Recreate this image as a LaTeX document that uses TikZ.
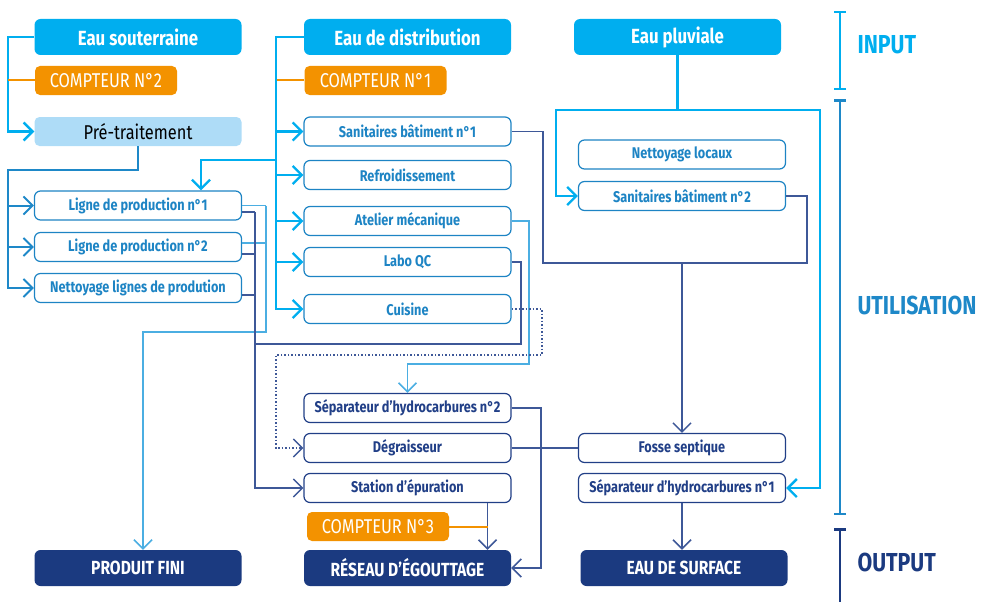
\documentclass[tikz,border=0pt]{standalone}
\usepackage{fontspec}
\setmainfont{Fira Sans}
\newfontfamily\dinfont{Fira Sans}[FakeStretch=0.82]
\usetikzlibrary{arrows.meta}
\definecolor{cyanc}{HTML}{00AEEF}
\definecolor{orangec}{HTML}{F39200}
\definecolor{lightc}{HTML}{AEDCF7}
\definecolor{useblue}{HTML}{1D84C4}
\definecolor{navyt}{HTML}{213F87}
\definecolor{navyc}{HTML}{1B3A80}
\definecolor{midc}{HTML}{1E88C8}
\definecolor{lightlc}{HTML}{4BAEE2}
\definecolor{navyl}{HTML}{3E5898}

\begin{document}
\begin{tikzpicture}[x=1pt, y=-1pt, >={Straight Barb[length=9pt,width=18pt]},
	source/.style={fill=cyanc, text=white, font=\dinfont\bfseries\fontsize{20.5}{22}\selectfont, minimum width=207pt, minimum height=36pt, inner sep=0pt, rounded corners=6pt},
	meter/.style={fill=orangec, text=white, font=\dinfont\fontsize{20}{22}\selectfont, minimum width=142pt, minimum height=29pt, inner sep=0pt, rounded corners=5pt},
	treat/.style={fill=lightc, text=black, font=\dinfont\fontsize{20}{22}\selectfont, minimum width=207pt, minimum height=29pt, inner sep=0pt, rounded corners=5pt},
	use/.style={draw=useblue, fill=white, line width=1.2pt, text=useblue, font=\dinfont\bfseries\fontsize{15.5}{17}\selectfont, minimum width=207pt, minimum height=29pt, inner sep=0pt, rounded corners=6pt},
	reject/.style={use, draw=navyt, text=navyt},
	sink/.style={fill=navyc, text=white, font=\dinfont\bfseries\fontsize{19}{21}\selectfont, minimum width=207pt, minimum height=36pt, inner sep=0pt, rounded corners=6pt},
	phase/.style={anchor=west, font=\dinfont\bfseries\fontsize{26}{28}\selectfont},
	cyanline/.style={draw=cyanc, line width=2.4pt},
	midline/.style={draw=midc, line width=2pt},
	lightline/.style={draw=lightlc, line width=1.6pt},
	navyline/.style={draw=navyl, line width=1.5pt},
	dotline/.style={draw=navyl, line width=1.5pt, dotted},
	meterline/.style={draw=orangec, line width=2pt}]
	\useasboundingbox (0,0) rectangle (988,602);

	\node[source] (souterraine) at (138,37) {Eau souterraine};
	\node[meter] (cpt2) at (106,80.5) {COMPTEUR N°2};
	\node[treat] (pretrait) at (138,131.5) {Pré-traitement};
	\node[use] (lig1) at (138,205.5) {Ligne de production n°1};
	\node[use] (lig2) at (138,247) {Ligne de production n°2};
	\node[use] (netlig) at (138,288) {Nettoyage lignes de prodution};
	\node[sink] (produit) at (138,568) {PRODUIT FINI};

	\node[source] (distrib) at (407.5,37) {Eau de distribution};
	\node[meter] (cpt1) at (375.5,80.5) {COMPTEUR N°1};
	\node[use] (sani1) at (407.5,131.5) {Sanitaires bâtiment n°1};
	\node[use] (refroid) at (407.5,175) {Refroidissement};
	\node[use] (atelier) at (407.5,221) {Atelier mécanique};
	\node[use] (labo) at (407.5,262) {Labo QC};
	\node[use] (cuisine) at (407.5,309) {Cuisine};
	\node[reject] (sep2) at (407.5,408) {Séparateur d’hydrocarbures n°2};
	\node[reject] (degr) at (407.5,448) {Dégraisseur};
	\node[reject] (station) at (407.5,488) {Station d’épuration};
	\node[meter] (cpt3) at (378,526.5) {COMPTEUR N°3};
	\node[sink] (reseau) at (407.5,568) {RÉSEAU D’ÉGOUTTAGE};

	\node[source] (pluv) at (677.5,37) {Eau pluviale};
	\node[use] (netloc) at (682,154.5) {Nettoyage locaux};
	\node[use] (sani2) at (682,196) {Sanitaires bâtiment n°2};
	\node[reject] (fosse) at (682,448) {Fosse septique};
	\node[reject] (sep1) at (682,488) {Séparateur d’hydrocarbures n°1};
	\node[sink] (surface) at (684,568) {EAU DE SURFACE};

	\coordinate (s1) at (8,37);
	\coordinate (p1) at (8,170);
	\coordinate (d1) at (276,37);
	\coordinate (d2) at (276,160);
	\coordinate (r1) at (556,110);
	\coordinate (r2) at (820,110);
	\coordinate (q1) at (543,263);
	\coordinate (q2) at (807,263);
	\coordinate (u1) at (541,408);
	\coordinate (v1) at ([xshift=80pt]station.south);
	\coordinate (w1) at (266,205.5);
	\coordinate (w2) at (143,332);
	\coordinate (n1) at (255,212);
	\coordinate (n2) at (521,344);
	\coordinate (m1) at (529,364);
	\coordinate (k1) at (542,355);
	\coordinate (k2) at (276,355);

	\draw[cyanline, ->] (souterraine.west) -- (s1) |- (pretrait.west);
	\draw[meterline] (cpt2.west) -- (cpt2.west -| s1);
	\draw[midline, ->] (pretrait.south) |- (p1) |- (netlig.west);
	\draw[midline, ->] (p1) |- (lig1.west);
	\draw[midline, ->] (p1) |- (lig2.west);

	\draw[cyanline, ->] (distrib.west) -- (d1) |- (cuisine.west);
	\draw[meterline] (cpt1.west) -- (cpt1.west -| d1);
	\foreach \n in {sani1, refroid, atelier, labo}
		\draw[cyanline, ->] (d1) |- (\n.west);
	\draw[cyanline, ->] (d2) -| ([xshift=63pt]lig1.north);

	\draw[cyanline, ->] (pluv.south) |- (r1) |- (sani2.west);
	\draw[cyanline, ->] (pluv.south) |- (r2) |- (sep1.east);

	\draw[navyline] (sani1.east) -| (q1) -- (q2) |- (sani2.east);
	\draw[navyline, ->] (fosse.north |- q1) -- (fosse.north);
	\draw[navyline] (degr.east) -- (fosse.west);
	\draw[navyline, ->] (sep2.east) -- (u1) |- (reseau.east);
	\draw[navyline, ->] (v1) -- (v1 |- reseau.north);
	\draw[meterline] (cpt3.east) -- (cpt3.east -| v1);
	\draw[navyline, ->] (sep1.south) -- (sep1.south |- surface.north);

	\draw[lightline] (lig1.east) -- (w1);
	\draw[lightline] ([yshift=4pt]lig2.east) -- ([yshift=4pt]lig2.east -| w1);
	\draw[lightline, ->] (w1) |- (w2) -- (w2 |- produit.north);
	\draw[navyline] ([yshift=-6.5pt]lig1.east) -- (n1);
	\draw[navyline] ([yshift=-7pt]lig2.east) -- ([yshift=-7pt]lig2.east -| n1);
	\draw[navyline] ([yshift=-7pt]netlig.east) -- ([yshift=-7pt]netlig.east -| n1);
	\draw[navyline, ->] (n1) |- (station.west);
	\draw[navyline] (labo.east) -| (n2) -- (n2 -| n1);
	\draw[lightline, ->] (atelier.east) -| (m1) -| (sep2.north);
	\draw[dotline, ->] (cuisine.east) -| (k1) -- (k2) |- (degr.west);

	\draw[cyanc, line width=2.5pt, {Bar[width=12pt]}-{Bar[width=12pt]}] (840,11) -- (840,90);
	\draw[midc, line width=2.5pt, {Bar[width=12pt]}-{Bar[width=12pt]}] (840,99) -- (840,515);
	\draw[navyc, line width=2.5pt, {Bar[width=12pt]}-] (840,528) -- (840,602);
	\node[phase, text=cyanc] (input) at (854,45) {INPUT};
	\node[phase, text=midc] (utilisation) at (854,305) {UTILISATION};
	\node[phase, text=navyc] (output) at (854,562) {OUTPUT};
\end{tikzpicture}
\end{document}
